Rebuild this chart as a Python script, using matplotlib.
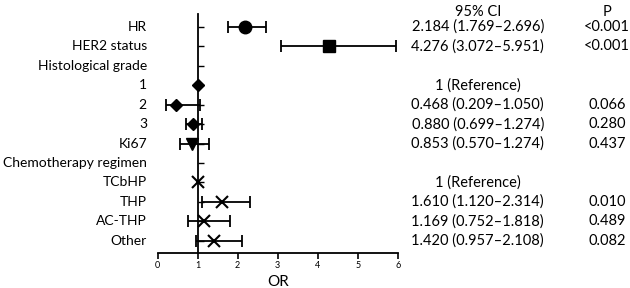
import matplotlib
matplotlib.use("Agg")
import matplotlib.pyplot as plt
import numpy as np

labels = ["HR", "HER2 status", "Histological grade", "1", "2", "3", "Ki67",
          "Chemotherapy regimen", "TCbHP", "THP", "AC-THP", "Other"]
or_vals = [2.184, 4.276, None, 1.0, 0.468, 0.880, 0.853, None, 1.0, 1.610, 1.169, 1.420]
ci_low = [1.769, 3.072, None, None, 0.209, 0.699, 0.570, None, None, 1.120, 0.752, 0.957]
ci_high = [2.696, 5.951, None, None, 1.050, 1.10, 1.274, None, None, 2.314, 1.818, 2.108]
markers = ["o", "s", None, "D", "D", "D", "v", None, "x", "x", "x", "x"]
ci_text = ["2.184 (1.769–2.696)", "4.276 (3.072–5.951)", "", "1 (Reference)",
           "0.468 (0.209–1.050)", "0.880 (0.699–1.274)", "0.853 (0.570–1.274)", "",
           "1 (Reference)", "1.610 (1.120–2.314)", "1.169 (0.752–1.818)", "1.420 (0.957–2.108)"]
p_text = ["<0.001", "<0.001", "", "", "0.066", "0.280", "0.437", "", "", "0.010", "0.489", "0.082"]
xticks = [0, 1, 2, 3, 4, 5, 6]

plt.rcParams['font.family'] = ['Lato', 'DejaVu Sans']

W, H = 630, 288
fig = plt.figure(figsize=(W / 100, H / 100), dpi=100)
ax = fig.add_axes([157.7 / W, (H - 253) / H, 240 / W, 239 / H])

n = len(labels)
ys = np.arange(n)
ax.set_xlim(0, 6)
ax.set_ylim(n - 1 + 0.63, -0.67)

msize = {"o": 9, "s": 9, "D": 6, "v": 9, "x": 8}
for i in range(n):
    if or_vals[i] is None:
        continue
    if ci_low[i] is not None:
        ax.errorbar(or_vals[i], ys[i],
                    xerr=[[or_vals[i] - ci_low[i]], [ci_high[i] - or_vals[i]]],
                    fmt='none', ecolor='black', elinewidth=1.3, capsize=4, capthick=1.3, zorder=2)
    m = markers[i]
    ax.plot(or_vals[i], ys[i], marker=m, color='black', markersize=msize[m],
            markeredgewidth=1.5 if m == "x" else 1, linestyle='none', zorder=3)

for s in ['top', 'right']:
    ax.spines[s].set_visible(False)
ax.spines['left'].set_position(('data', 1))
ax.spines['left'].set_linewidth(1.3)
ax.spines['bottom'].set_linewidth(1.3)
ax.set_yticks(ys)
ax.tick_params(axis='y', direction='in', length=4, width=1, labelleft=False)
ax.set_xticks(xticks)
ax.set_xticklabels([str(t) for t in xticks])
ax.tick_params(axis='x', direction='out', length=4, width=1.2, labelsize=6.5, pad=2)
ax.set_xlabel("OR", fontsize=11, labelpad=3)

for i in range(n):
    ax.text(-0.27, ys[i], labels[i], ha='right', va='center', fontsize=10)
    if ci_text[i]:
        ax.text(8.0, ys[i], ci_text[i], ha='center', va='center', fontsize=10.5, clip_on=False)
    if p_text[i]:
        ax.text(11.23, ys[i], p_text[i], ha='center', va='center', fontsize=10.5, clip_on=False)
ax.text(8.0, -0.75, "95% CI", ha='center', va='center', fontsize=10.5, clip_on=False)
ax.text(11.23, -0.75, "P", ha='center', va='center', fontsize=10.5, clip_on=False)

fig.savefig("out.png", dpi=100)
